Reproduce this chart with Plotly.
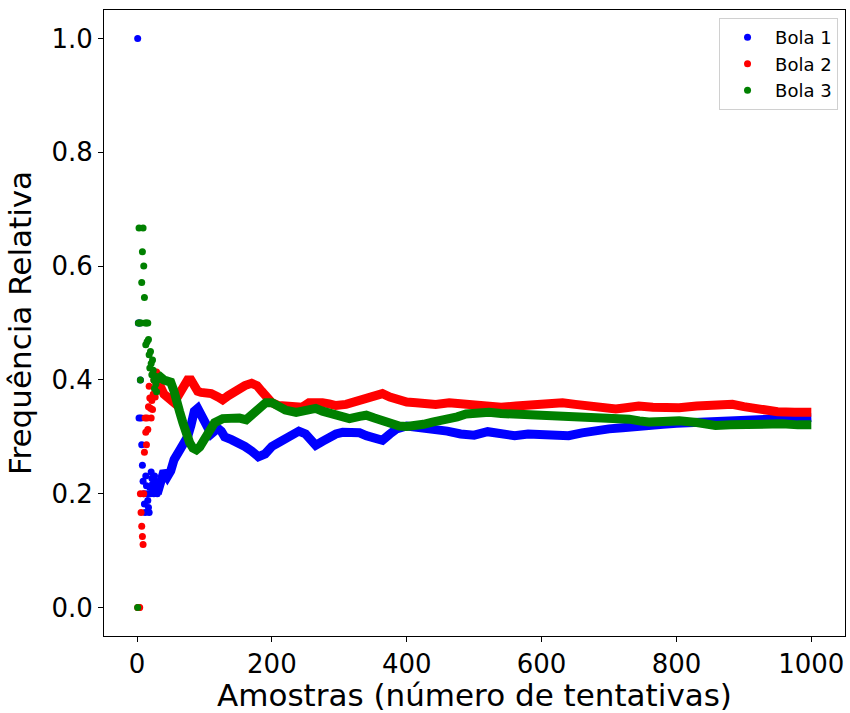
import plotly.graph_objects as go

# Running relative frequency of each ball over the first 30 draws (one dot per draw)
early_n = list(range(1, 31))
early_bola1 = [1.000, 0.500, 0.333, 0.500, 0.400, 0.333, 0.286, 0.250, 0.222, 0.200,
               0.182, 0.167, 0.231, 0.214, 0.200, 0.188, 0.176, 0.167, 0.211, 0.200,
               0.238, 0.227, 0.217, 0.208, 0.200, 0.231, 0.222, 0.214, 0.207, 0.200]
early_bola2 = [0.000, 0.000, 0.000, 0.000, 0.200, 0.167, 0.143, 0.125, 0.111, 0.200,
               0.273, 0.333, 0.308, 0.286, 0.333, 0.313, 0.353, 0.389, 0.368, 0.350,
               0.333, 0.364, 0.348, 0.375, 0.400, 0.385, 0.370, 0.393, 0.414, 0.400]
early_bola3 = [0.000, 0.500, 0.667, 0.500, 0.400, 0.500, 0.571, 0.625, 0.667, 0.600,
               0.545, 0.500, 0.462, 0.500, 0.467, 0.500, 0.471, 0.444, 0.421, 0.450,
               0.429, 0.409, 0.435, 0.417, 0.400, 0.385, 0.407, 0.393, 0.379, 0.400]

# Later samples, where the dots merge into a continuous band
late_n1 = [30, 35, 40, 45, 50, 55, 60, 65, 70, 75, 80, 85, 90, 95, 100, 105, 110, 115,
           120, 125, 130, 140, 150, 160, 170, 180, 190, 200, 210, 220, 230, 240, 250,
           258, 265, 275, 285, 295, 305, 320, 330, 340, 350, 364, 375, 385, 400, 420,
           440, 460, 480, 500, 520, 540, 560, 580, 600, 620, 640, 660, 680, 700, 720,
           740, 760, 780, 800, 820, 840, 860, 880, 900, 920, 940, 960, 980, 1000]
late_bola1 = [0.200, 0.220, 0.240, 0.230, 0.240, 0.260, 0.275, 0.280, 0.290, 0.300,
              0.320, 0.345, 0.350, 0.340, 0.330, 0.315, 0.305, 0.310, 0.315, 0.310,
              0.300, 0.295, 0.290, 0.283, 0.275, 0.265, 0.270, 0.283, 0.290, 0.298,
              0.305, 0.310, 0.305, 0.295, 0.285, 0.292, 0.300, 0.305, 0.308, 0.308,
              0.307, 0.302, 0.298, 0.294, 0.305, 0.314, 0.319, 0.317, 0.313, 0.310,
              0.305, 0.303, 0.309, 0.305, 0.302, 0.305, 0.303, 0.301, 0.302, 0.307,
              0.312, 0.314, 0.316, 0.317, 0.320, 0.322, 0.324, 0.325, 0.326, 0.327,
              0.328, 0.329, 0.331, 0.332, 0.332, 0.333, 0.334]

late_n2 = [30, 35, 40, 45, 50, 55, 60, 65, 70, 75, 80, 85, 90, 95, 100, 110, 120, 127,
           135, 142, 150, 160, 170, 178, 185, 191, 200, 210, 225, 236, 245, 255, 265,
           275, 285, 295, 310, 325, 340, 355, 364, 375, 389, 400, 414, 430, 443, 463,
           480, 493, 510, 522, 540, 562, 581, 600, 631, 650, 670, 690, 710, 725, 744,
           765, 785, 804, 830, 853, 870, 883, 900, 927, 950, 975, 1000]
late_bola2 = [0.400, 0.385, 0.375, 0.370, 0.365, 0.360, 0.370, 0.380, 0.390, 0.400,
              0.400, 0.390, 0.380, 0.378, 0.378, 0.376, 0.370, 0.365, 0.372, 0.378,
              0.383, 0.390, 0.394, 0.390, 0.380, 0.372, 0.360, 0.355, 0.353, 0.350,
              0.352, 0.360, 0.362, 0.360, 0.358, 0.355, 0.357, 0.362, 0.365, 0.372,
              0.376, 0.370, 0.363, 0.361, 0.360, 0.358, 0.357, 0.360, 0.358, 0.357,
              0.353, 0.351, 0.352, 0.354, 0.355, 0.357, 0.360, 0.357, 0.354, 0.351,
              0.349, 0.351, 0.354, 0.352, 0.350, 0.351, 0.354, 0.357, 0.357, 0.357,
              0.353, 0.346, 0.344, 0.343, 0.343]

late_n3 = [30, 35, 40, 45, 50, 55, 58, 63, 68, 73, 78, 83, 88, 93, 97, 102, 107, 115,
           127, 140, 152, 162, 170, 177, 185, 191, 200, 211, 220, 236, 245, 255, 265,
           275, 290, 305, 315, 330, 340, 352, 364, 377, 389, 400, 414, 425, 438, 450,
           463, 475, 488, 505, 522, 540, 562, 581, 600, 631, 655, 680, 705, 730, 745,
           759, 780, 804, 830, 858, 880, 902, 930, 957, 980, 1000]
late_bola3 = [0.400, 0.405, 0.400, 0.398, 0.396, 0.380, 0.360, 0.345, 0.325, 0.300,
              0.290, 0.280, 0.277, 0.282, 0.290, 0.300, 0.315, 0.325, 0.332, 0.333,
              0.333, 0.330, 0.338, 0.348, 0.355, 0.360, 0.360, 0.352, 0.347, 0.343,
              0.345, 0.348, 0.350, 0.345, 0.340, 0.334, 0.332, 0.336, 0.338, 0.333,
              0.328, 0.322, 0.319, 0.318, 0.319, 0.322, 0.326, 0.328, 0.330, 0.335,
              0.340, 0.342, 0.343, 0.341, 0.340, 0.341, 0.340, 0.338, 0.337, 0.337,
              0.334, 0.331, 0.328, 0.326, 0.327, 0.328, 0.325, 0.320, 0.321, 0.322,
              0.322, 0.323, 0.321, 0.321]

series = [
    ("Bola 1", "#0000ff", early_bola1, late_n1, late_bola1),
    ("Bola 2", "#ff0000", early_bola2, late_n2, late_bola2),
    ("Bola 3", "#008000", early_bola3, late_n3, late_bola3),
]

fig = go.Figure()
for name, color, early_vals, late_x, late_vals in series:
    fig.add_trace(go.Scatter(
        x=early_n, y=early_vals, mode="markers", name=name, legendgroup=name,
        marker=dict(color=color, size=7, line=dict(width=0)),
    ))
    fig.add_trace(go.Scatter(
        x=late_x, y=late_vals, mode="lines", name=name, legendgroup=name,
        showlegend=False, line=dict(color=color, width=9),
    ))

font = "DejaVu Sans, Verdana, sans-serif"
axis_common = dict(
    showgrid=False, zeroline=False, showline=True, linecolor="black", linewidth=1,
    mirror=True, ticks="outside", ticklen=5, tickwidth=1, tickcolor="black",
    tickfont=dict(family=font, size=26, color="black"),
)

fig.update_layout(
    width=850, height=713,
    margin=dict(l=104, r=5, t=10, b=77),
    paper_bgcolor="white", plot_bgcolor="white",
    font=dict(family=font, color="black"),
    xaxis=dict(range=[-48.95, 1049.95], tickvals=[0, 200, 400, 600, 800, 1000],
               title=dict(text="Amostras (número de tentativas)",
                          font=dict(family=font, size=31), standoff=0),
               **axis_common),
    yaxis=dict(range=[-0.05, 1.05], tickvals=[0, 0.2, 0.4, 0.6, 0.8, 1.0],
               tickformat=".1f",
               title=dict(text="Frequência Relativa",
                          font=dict(family=font, size=31), standoff=10),
               **axis_common),
    legend=dict(x=0.9906, y=0.987, xanchor="right", yanchor="top",
                bgcolor="rgba(255,255,255,0.8)", bordercolor="#d0d0d0", borderwidth=1,
                font=dict(family=font, size=18), itemwidth=45,
                tracegroupgap=0),
    showlegend=True,
)

fig.write_html("out.html")
